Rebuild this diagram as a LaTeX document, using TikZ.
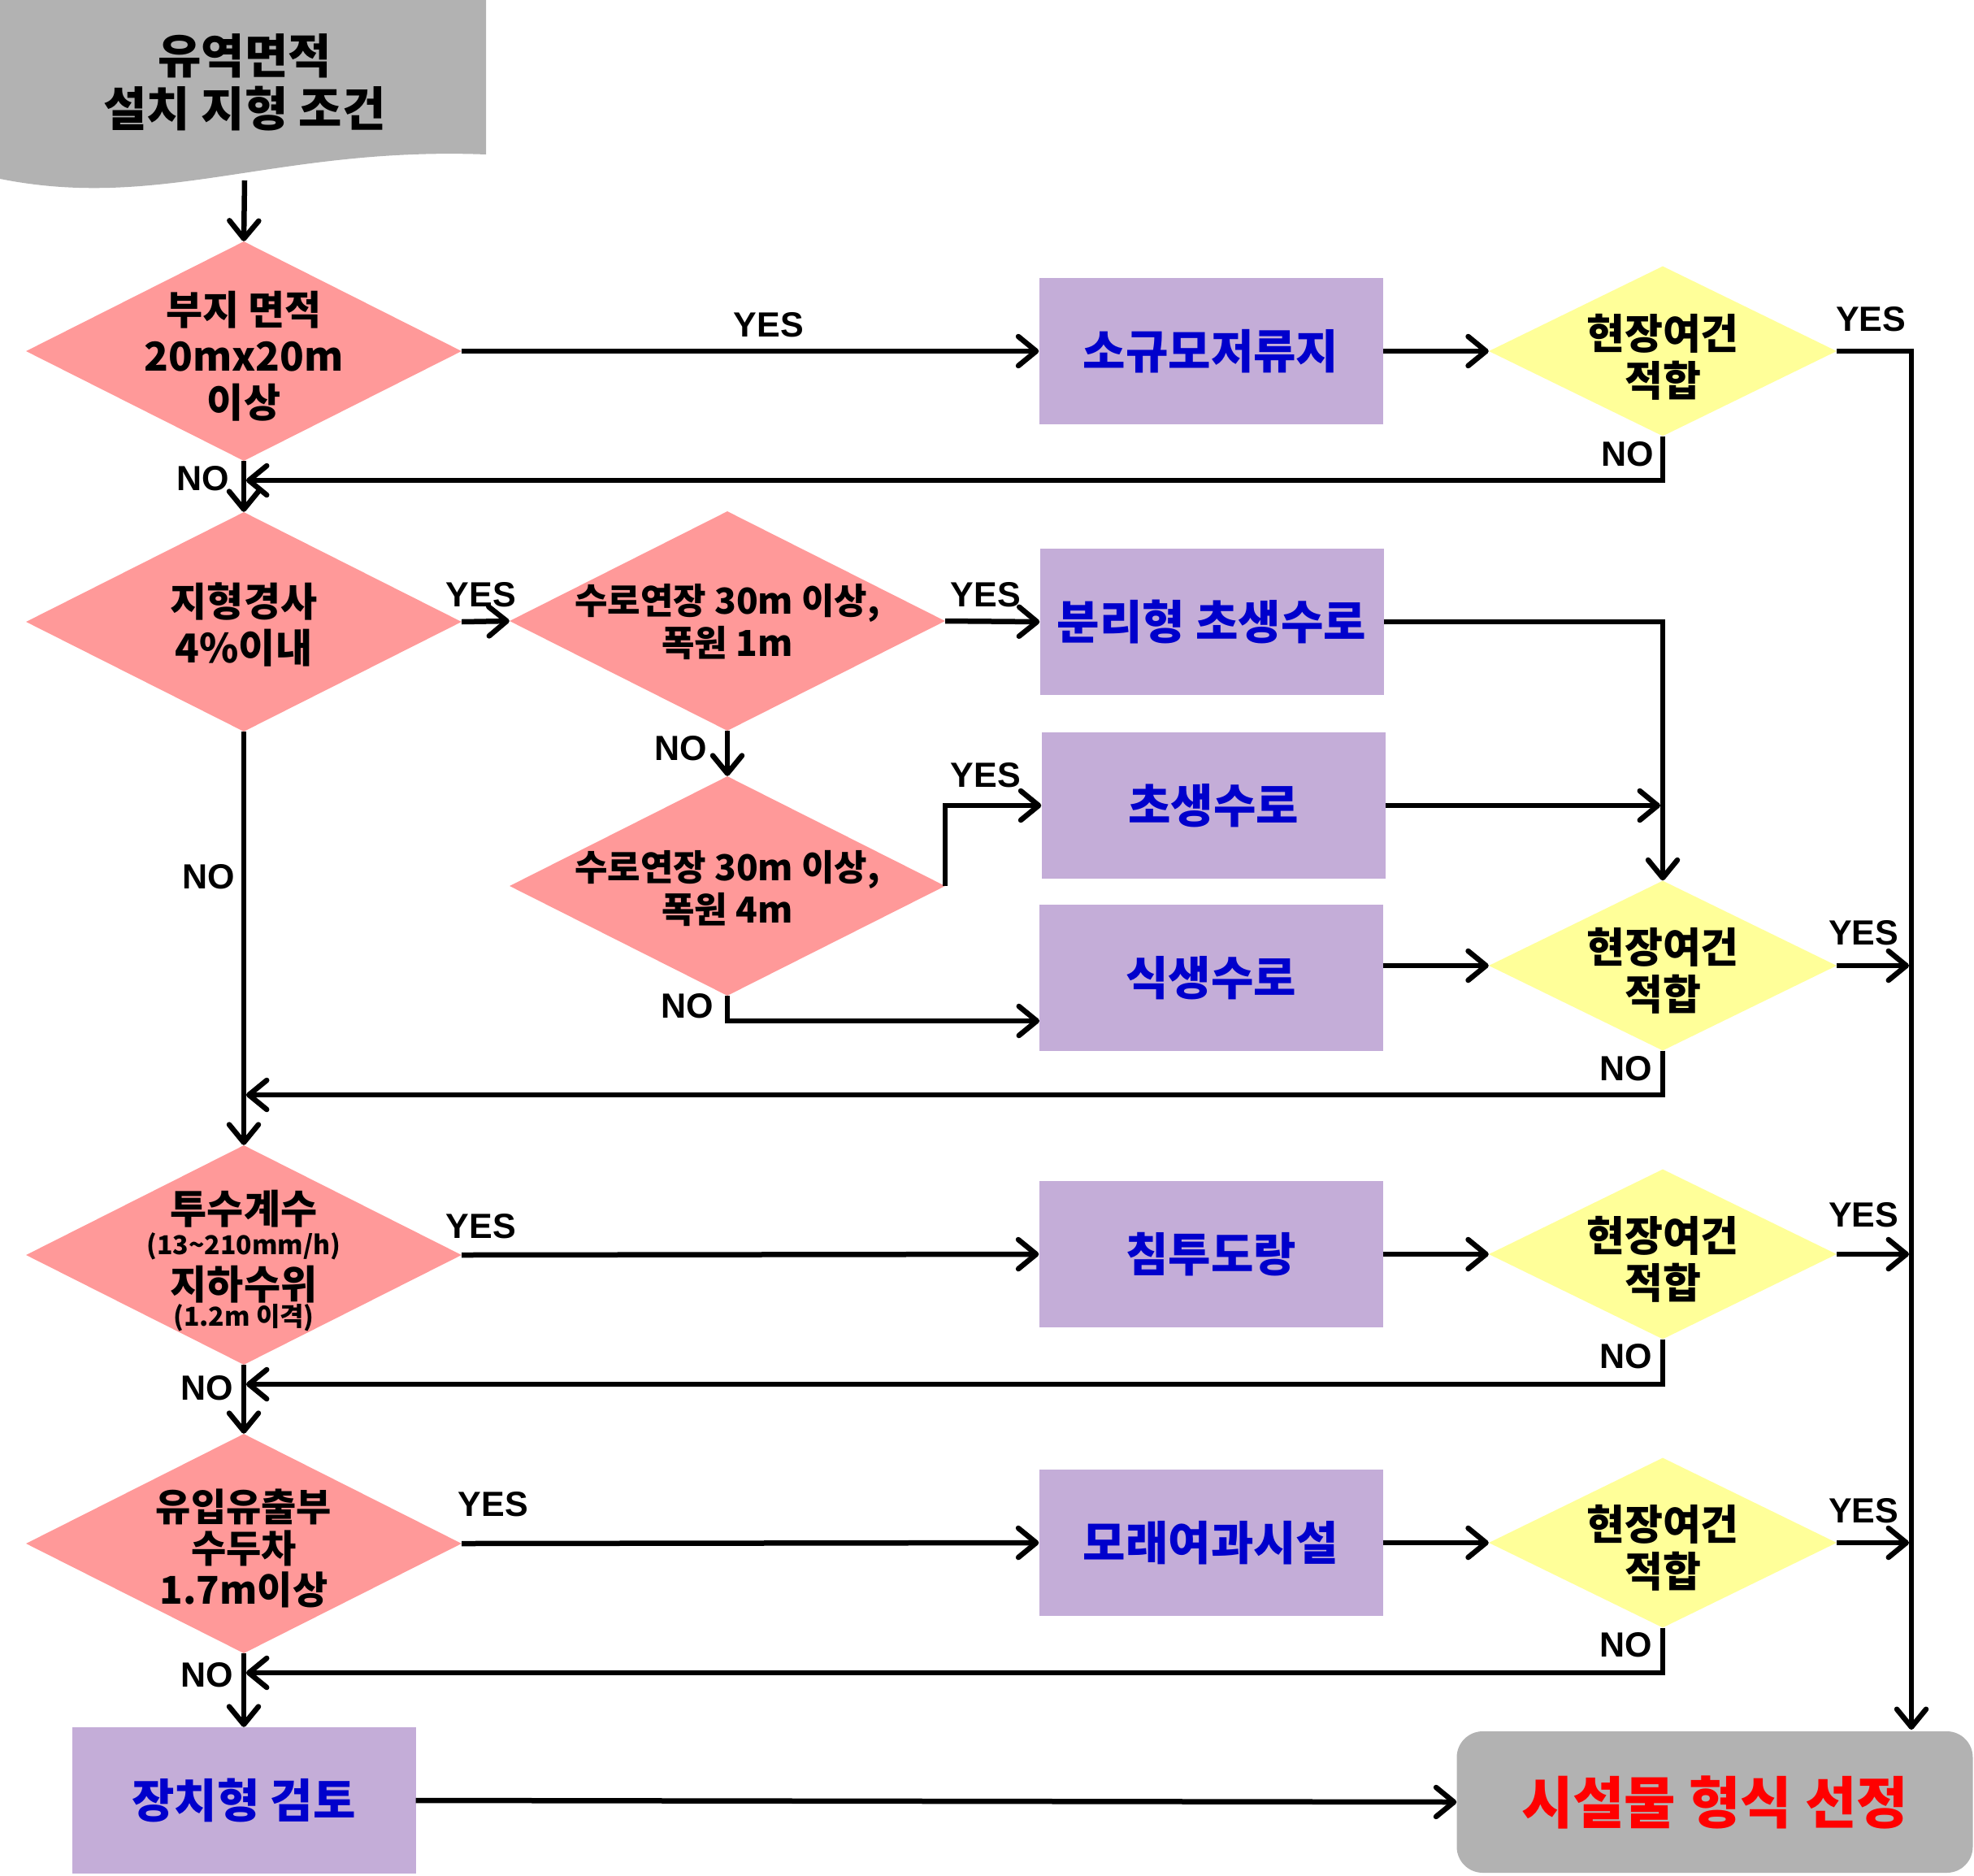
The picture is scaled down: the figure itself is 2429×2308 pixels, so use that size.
\documentclass[tikz,border=0pt]{standalone}
\usepackage{fontspec}
\setmainfont{Noto Sans CJK KR}
\newfontfamily\lab{Liberation Sans}
\usetikzlibrary{shapes.geometric,arrows.meta,calc}
\definecolor{pinkd}{HTML}{FF9999}
\definecolor{yel}{HTML}{FFFF99}
\definecolor{lav}{HTML}{C4ADD8}
\definecolor{gry}{HTML}{B2B2B2}
\definecolor{bluet}{HTML}{0000CC}
\definecolor{redt}{HTML}{FF0000}
\begin{document}
\begin{tikzpicture}[x=1pt,y=-1pt,
  conn/.style={line width=6.5pt,-{Straight Barb[length=22pt,width=36pt,round]}},
  cond/.style={diamond,fill=pinkd,inner sep=0pt,minimum width=536pt,minimum height=270pt},
  chk/.style={diamond,fill=yel,inner sep=0pt,minimum width=428pt,minimum height=209pt},
  proc/.style={rectangle,fill=lav,inner sep=0pt,minimum width=423pt,minimum height=180pt,text=bluet,font=\bfseries\fontsize{57}{64}\selectfont},
  dtext/.style={align=center,inner sep=0pt,font=\bfseries\fontsize{49}{57}\selectfont},
  dsmall/.style={align=center,inner sep=0pt,font=\bfseries\fontsize{44}{52}\selectfont},
  ptext/.style={align=center,inner sep=0pt,font=\bfseries\fontsize{32}{36}\selectfont},
  ytext/.style={align=center,inner sep=0pt,font=\bfseries\fontsize{51}{58}\selectfont},
  lbl/.style={inner sep=0pt,font=\lab\bfseries\fontsize{43}{43}\selectfont},
]
\useasboundingbox (0,0) rectangle (2429,2308);

% start document shape
\fill[gry] (0,0) -- (598,0) -- (598,190) .. controls (340,180) and (200,260) .. (0,220) -- cycle;
\node[align=center,inner sep=0pt,font=\bfseries\fontsize{58}{65}\selectfont] (doc) at (301,101) {유역면적\\설치 지형 조건};
\coordinate (docb) at (301,222);

% decisions
\node[cond] (D1) at (300,432) {};
\node[dtext] (D1t) at (300,438) {부지 면적\\20mx20m\\이상};
\node[cond] (D2) at (300,765) {};
\node[dtext] (D2t) at (300,769) {지형경사\\4\%이내};
\node[cond] (D3) at (895,764) {};
\node[dsmall] (D3t) at (895,765) {수로연장 30m 이상,\\폭원 1m};
\node[cond] (D4) at (895,1090) {};
\node[dsmall] (D4t) at (895,1093) {수로연장 30m 이상,\\폭원 4m};
\node[cond] (D5) at (300,1544) {};
\node[dtext] (D5a) at (300,1487) {투수계수};
\node[ptext] (D5b) at (300,1533) {(13\textasciitilde210mm/h)};
\node[dtext] (D5c) at (300,1580) {지하수위};
\node[ptext] (D5d) at (300,1621) {(1.2m 이격)};
\node[cond] (D6) at (300,1899) {};
\node[align=center,inner sep=0pt,font=\bfseries\fontsize{47}{51}\selectfont] (D6t) at (300,1905) {유입유출부\\수두차\\1.7m이상};

% site checks
\node[chk] (Y1) at (2046,432) {};
\node[ytext] (Y1t) at (2046,439) {현장여건\\적합};
\node[chk] (Y2) at (2046,1188) {};
\node[ytext] (Y2t) at (2046,1194) {현장여건\\적합};
\node[chk] (Y3) at (2046,1543) {};
\node[ytext] (Y3t) at (2046,1549) {현장여건\\적합};
\node[chk] (Y4) at (2046,1898) {};
\node[ytext] (Y4t) at (2046,1904) {현장여건\\적합};

% processes
\node[proc] (B1) at (1490,432) {소규모저류지};
\node[proc] (B2) at (1491,765) {분리형 초생수로};
\node[proc] (B3) at (1493,991) {초생수로};
\node[proc] (B4) at (1490,1203) {식생수로};
\node[proc] (B5) at (1490,1543) {침투도랑};
\node[proc] (B6) at (1490,1898) {모래여과시설};
\node[proc] (B7) at (300,2215) {장치형 검토};
\node[rectangle,rounded corners=32pt,fill=gry,minimum width=635pt,minimum height=174pt,inner sep=0pt,text=redt,font=\bfseries\fontsize{69}{76}\selectfont] (F) at (2110,2217) {시설물 형식 선정};

% helper coordinates
\coordinate (rail) at (2352,2128);
\coordinate (s1) at (303,591);
\coordinate (s2) at (303,1347);
\coordinate (s3) at (303,1703);
\coordinate (s4) at (303,2058);
\coordinate (b4in) at (1279,1256);

% connectors
\draw[conn] (docb) -- (D1.north);
\draw[conn] (D1.east) -- (B1.west);
\draw[conn] (B1.east) -- (Y1.west);
\draw[conn] (Y1.east) -| (rail);
\draw[conn] (Y1.south) |- (s1);
\draw[conn] (D1.south) -- (D2.north);
\draw[conn] (D2.east) -- (D3.west);
\draw[conn] (D3.east) -- (B2.west);
\draw[conn] (B2.east) -| (Y2.north);
\draw[conn] (D3.south) -- (D4.north);
\draw[conn] (D4.east) |- (B3.west);
\draw[conn] (B3.east) -- ($(B3.east -| Y2.north)+(-3,0)$);
\draw[conn] (D4.south) |- (b4in);
\draw[conn] (B4.east |- Y2.west) -- (Y2.west);
\draw[conn] (Y2.east) -- ($(Y2.east -| rail)+(-3,0)$);
\draw[conn] (Y2.south) |- (s2);
\draw[conn] (D2.south) -- (D5.north);
\draw[conn] (D5.east) -- (B5.west);
\draw[conn] (B5.east) -- (Y3.west);
\draw[conn] (Y3.east) -- ($(Y3.east -| rail)+(-3,0)$);
\draw[conn] (Y3.south) |- (s3);
\draw[conn] (D5.south) -- (D6.north);
\draw[conn] (D6.east) -- (B6.west);
\draw[conn] (B6.east) -- (Y4.west);
\draw[conn] (Y4.east) -- ($(Y4.east -| rail)+(-3,0)$);
\draw[conn] (Y4.south) |- (s4);
\draw[conn] (D6.south) -- (B7.north);
\draw[conn] (B7.east) -- (F.west);

% labels
\node[lbl] (l1) at (946,400) {YES};
\node[lbl] (l2) at (2302,393) {YES};
\node[lbl] (l3) at (2003,559) {NO};
\node[lbl] (l4) at (250,589) {NO};
\node[lbl] (l5) at (592,732) {YES};
\node[lbl] (l6) at (1213,732) {YES};
\node[lbl] (l7) at (838,921) {NO};
\node[lbl] (l8) at (1213,954) {YES};
\node[lbl] (l9) at (846,1238) {NO};
\node[lbl] (l10) at (2293,1148) {YES};
\node[lbl] (l11) at (2001,1315) {NO};
\node[lbl] (l12) at (257,1079) {NO};
\node[lbl] (l13) at (592,1509) {YES};
\node[lbl] (l14) at (2293,1495) {YES};
\node[lbl] (l15) at (2001,1669) {NO};
\node[lbl] (l16) at (255,1708) {NO};
\node[lbl] (l17) at (607,1851) {YES};
\node[lbl] (l18) at (2293,1859) {YES};
\node[lbl] (l19) at (2001,2024) {NO};
\node[lbl] (l20) at (255,2061) {NO};
\end{tikzpicture}
\end{document}
